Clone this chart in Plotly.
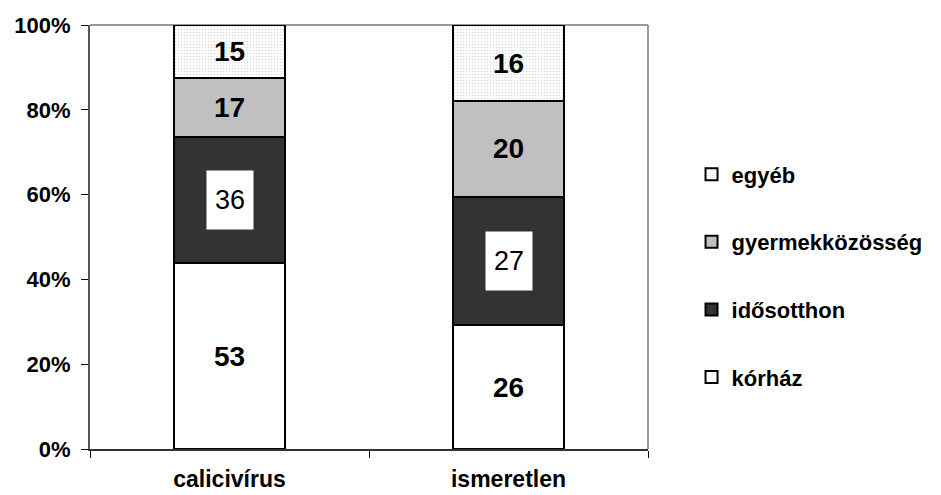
import plotly.graph_objects as go

categories = ["calicivírus", "ismeretlen"]
series_names = ["kórház", "idősotthon", "gyermekközösség", "egyéb"]
korhaz = [53, 26]
idosotthon = [36, 27]
gyermek = [17, 20]
egyeb = [15, 16]
y_ticks = [0, 20, 40, 60, 80, 100]
y_tick_labels = ["0%", "20%", "40%", "60%", "80%", "100%"]

FONT = "Liberation Sans"
series = [korhaz, idosotthon, gyermek, egyeb]
totals = [sum(v) for v in zip(*series)]

fig = go.Figure()
styles = [
    dict(color="white"),
    dict(color="#333333"),
    dict(color="#c0c0c0"),
    dict(color="white", pattern=dict(shape=".", fgcolor="#b0b0b0", bgcolor="white", size=3, solidity=0.2)),
]
for i, (name, vals, st) in enumerate(zip(series_names, series, styles)):
    show_text = name != "idősotthon"
    fig.add_trace(go.Bar(
        x=categories, y=vals, name=name,
        marker=dict(line=dict(color="black", width=2), **st),
        text=[str(v) for v in vals] if show_text else None,
        textposition="inside" if show_text else "none",
        insidetextanchor="middle",
        constraintext="none",
        textfont=dict(family=FONT, size=28, color="black", weight="bold"),
        legendgroup=name, legendrank=len(series_names) - i,
        hoverinfo="skip",
    ))

# white boxed labels for idősotthon
for c, k, v, t in zip(categories, korhaz, idosotthon, totals):
    fig.add_annotation(
        x=c, y=(k + v / 2) / t * 100, text=str(v), showarrow=False,
        font=dict(family=FONT, size=27, color="black"),
        bgcolor="white", width=44, height=56, xref="x", yref="y",
    )

# gray plot border top/right
fig.add_shape(type="line", xref="paper", yref="paper", x0=0, x1=1, y0=1, y1=1,
              line=dict(color="#999999", width=2), layer="below")
fig.add_shape(type="line", xref="paper", yref="paper", x0=1, x1=1, y0=0, y1=1,
              line=dict(color="#999999", width=2), layer="below")

fig.update_layout(
    width=941, height=495,
    margin=dict(l=82, r=301, t=17, b=54),
    barmode="stack", barnorm="percent", bargap=0.6,
    plot_bgcolor="white", paper_bgcolor="white",
    font=dict(family=FONT, color="black"),
    showlegend=True,
    legend=dict(
        x=1.078, y=0.697, xanchor="left", yanchor="top",
        traceorder="grouped", tracegroupgap=36,
        font=dict(family=FONT, size=22, color="black", weight="bold"),
        itemwidth=30, bgcolor="rgba(0,0,0,0)",
    ),
    xaxis=dict(
        automargin=False,
        showline=True, linecolor="#333333", linewidth=2,
        ticks="outside", tickson="boundaries", ticklen=7, tickcolor="black",
        ticklabelstandoff=8,
        tickfont=dict(family=FONT, size=23, color="black", weight="bold"),
        showgrid=False,
    ),
    yaxis=dict(
        automargin=False,
        range=[0, 100], tickvals=y_ticks, ticktext=y_tick_labels,
        showline=True, linecolor="#555555", linewidth=2,
        ticks="outside", ticklen=7, tickcolor="black",
        ticklabelstandoff=6,
        tickfont=dict(family=FONT, size=22, color="black", weight="bold"),
        showgrid=False, zeroline=False,
    ),
)

fig.write_html("out.html")
